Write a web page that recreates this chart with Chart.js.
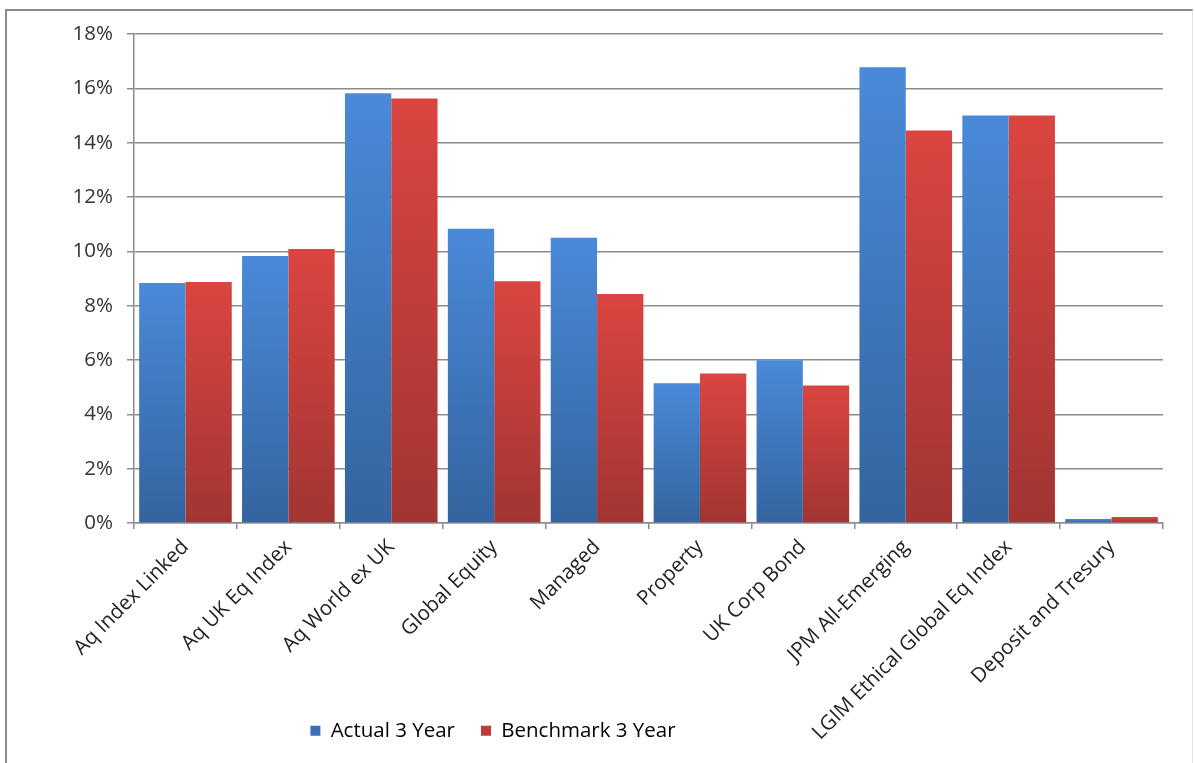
<!DOCTYPE html>
<html>
<head>
<meta charset="utf-8">
<script src="https://cdn.jsdelivr.net/npm/chart.js@4"></script>
<style>
  html, body { margin: 0; padding: 0; background: #fff; }
  #wrap { position: relative; width: 1195px; height: 763px; }
  #frame {
    position: absolute; left: 5px; top: 9px; width: 1188px; height: 770px;
    border-left: 2px solid #8a8a8a; border-top: 2px solid #8a8a8a; border-right: 1px solid #e2e2e2;
    box-sizing: border-box; pointer-events: none;
  }
  canvas { position: absolute; left: 0; top: 0; }
</style>
</head>
<body>
<div id="wrap">
  <canvas id="myChart" width="1195" height="763"></canvas>
  <div id="frame"></div>
</div>
<script>
const categories = ['Aq Index Linked', 'Aq UK Eq Index', 'Aq World ex UK', 'Global Equity', 'Managed',
  'Property', 'UK Corp Bond', 'JPM All-Emerging', 'LGIM Ethical Global Eq Index', 'Deposit and Tresury'];
const actual3Year = [8.83, 9.83, 15.82, 10.83, 10.5, 5.14, 5.99, 16.78, 15.0, 0.15];
const benchmark3Year = [8.87, 10.09, 15.63, 8.9, 8.43, 5.5, 5.06, 14.45, 15.0, 0.22];
const yTicks = [0, 2, 4, 6, 8, 10, 12, 14, 16, 18];

const FONT = "'Open Sans', 'DejaVu Sans', sans-serif";
const FONT_SIZE = 20.5;
const PLOT_TOP = 34, PLOT_BOTTOM = 523, PLOT_LEFT = 134, PLOT_RIGHT = 1163;
const PAD_BOTTOM = 12;
const LEGEND_CENTER = 506;

function barGradient(top, bottom) {
  return (ctx) => {
    const chart = ctx.chart;
    const y = chart.scales.y;
    if (!y || ctx.raw == null) return bottom;
    const y0 = y.getPixelForValue(ctx.raw);
    const y1 = y.getPixelForValue(0);
    if (!isFinite(y0) || !isFinite(y1) || y0 === y1) return bottom;
    const g = chart.ctx.createLinearGradient(0, y0, 0, y1);
    g.addColorStop(0, top);
    g.addColorStop(1, bottom);
    return g;
  };
}

// legend sits left of centre in the original, and the slanted
// labels run down beside it, so let the x scale reach the bottom
const layoutTweak = {
  id: 'layoutTweak',
  afterLayout(chart) {
    const lg = chart.legend;
    if (lg) {
      const pad = lg.options.labels.padding;
      lg.left = 0;
      lg.right = 2 * LEGEND_CENTER - pad;
      lg.width = lg.right;
    }
    const x = chart.scales.x;
    x.bottom = chart.height;
    x.height = x.bottom - x.top;
  }
};

const ctx = document.getElementById('myChart').getContext('2d');
new Chart(ctx, {
  type: 'bar',
  data: {
    labels: categories,
    datasets: [
      {
        label: 'Actual 3 Year',
        data: actual3Year,
        backgroundColor: barGradient('#4a8ad9', '#34649f'),
        legendColor: '#3a6fb5',
        borderWidth: 0,
        categoryPercentage: 0.9,
        barPercentage: 1.0,
      },
      {
        label: 'Benchmark 3 Year',
        data: benchmark3Year,
        backgroundColor: barGradient('#db4541', '#a13532'),
        legendColor: '#c03b38',
        borderWidth: 0,
        categoryPercentage: 0.9,
        barPercentage: 1.0,
      },
    ],
  },
  plugins: [layoutTweak],
  options: {
    responsive: false,
    animation: false,
    layout: {
      padding: { left: 0, top: PLOT_TOP, right: 1195 - PLOT_RIGHT, bottom: PAD_BOTTOM },
    },
    scales: {
      x: {
        grid: {
          offset: true,
          drawOnChartArea: false,
          drawTicks: true,
          tickLength: 6,
          color: '#8c8c8c',
          lineWidth: 1.5,
        },
        border: { display: true, color: '#8c8c8c', width: 1.5 },
        ticks: {
          minRotation: 45,
          maxRotation: 45,
          autoSkip: false,
          padding: 6,
          color: '#222',
          font: { family: FONT, size: FONT_SIZE },
        },
        afterFit(scale) {
          const lg = scale.chart.legend;
          const lh = lg ? lg.height : 0;
          scale.height = 763 - PAD_BOTTOM - lh - PLOT_BOTTOM;
        },
      },
      y: {
        min: 0,
        max: 18,
        afterBuildTicks(scale) {
          scale.ticks = yTicks.map(v => ({ value: v }));
        },
        grid: {
          color: '#8c8c8c',
          lineWidth: 1.5,
          tickLength: 7,
        },
        border: { display: true, color: '#8c8c8c', width: 1.5 },
        ticks: {
          padding: 14,
          color: '#333',
          font: { family: FONT, size: FONT_SIZE },
          callback: v => v + '%',
        },
        afterFit(scale) {
          scale.width = PLOT_LEFT;
        },
      },
    },
    plugins: {
      title: { display: false },
      tooltip: { enabled: false },
      legend: {
        position: 'bottom',
        align: 'center',
        labels: {
          boxWidth: 10,
          boxHeight: 10,
          padding: 26,
          color: '#222',
          font: { family: FONT, size: FONT_SIZE },
          generateLabels(chart) {
            return chart.data.datasets.map((ds, i) => ({
              text: ds.label,
              fillStyle: ds.legendColor,
              strokeStyle: ds.legendColor,
              lineWidth: 0,
              hidden: false,
              datasetIndex: i,
            }));
          },
        },
      },
    },
  },
});
</script>
</body>
</html>
